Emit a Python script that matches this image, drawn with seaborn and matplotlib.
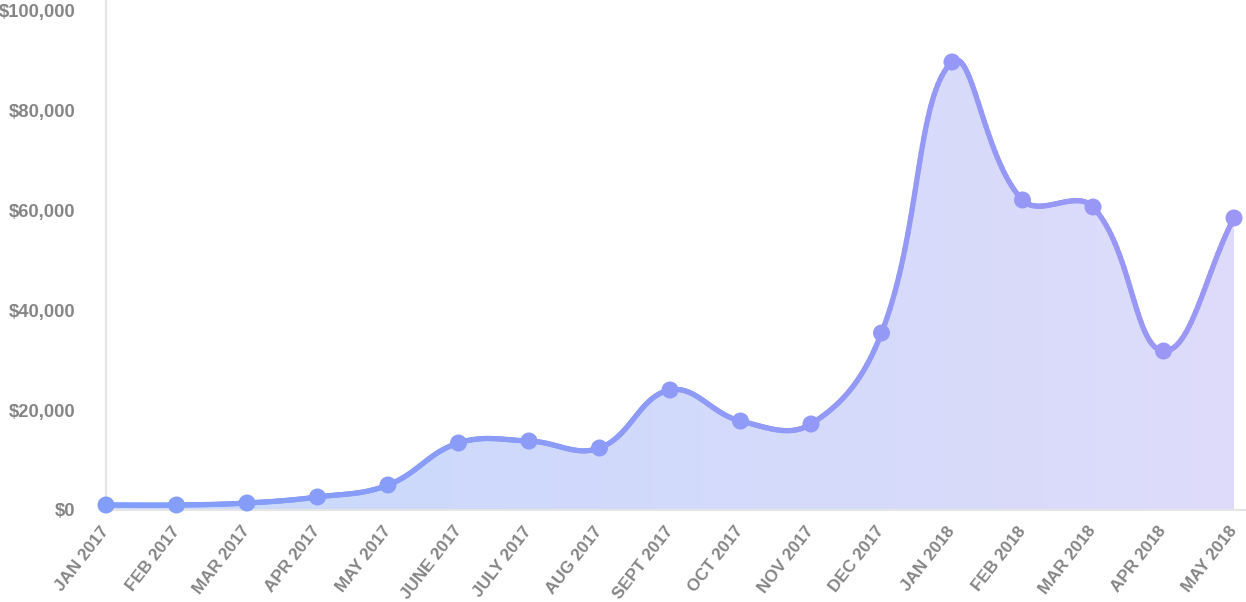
import numpy as np
import pandas as pd
import seaborn as sns
import matplotlib.pyplot as plt
from matplotlib.collections import LineCollection
from matplotlib.colors import LinearSegmentedColormap
from matplotlib.ticker import FuncFormatter

months = ['JAN 2017', 'FEB 2017', 'MAR 2017', 'APR 2017', 'MAY 2017', 'JUNE 2017',
          'JULY 2017', 'AUG 2017', 'SEPT 2017', 'OCT 2017', 'NOV 2017', 'DEC 2017',
          'JAN 2018', 'FEB 2018', 'MAR 2018', 'APR 2018', 'MAY 2018']
revenue = [1000, 1000, 1400, 2600, 5000, 13400, 13800, 12400, 24000, 17800,
           17200, 35400, 89600, 62000, 60600, 31800, 58400]
y_ticks = [0, 20000, 40000, 60000, 80000, 100000]

LINE_START = (0.51, 0.62, 0.98)
LINE_END = (0.61, 0.59, 0.96)
FILL_START = (0.78, 0.85, 0.99)
FILL_END = (0.87, 0.86, 0.98)
TEXT = '#858585'


def spline(xs, ys, sx, sy, tension=0.4, n=40):
    """Chart.js style cubic spline, distances in pixel space"""
    px = np.asarray(xs, float) * sx
    py = np.asarray(ys, float) * sy
    m = len(px)
    cin, cout = [], []
    for i in range(m):
        p0 = i - 1 if i > 0 else i
        p2 = i + 1 if i < m - 1 else i
        d01 = np.hypot(px[i] - px[p0], py[i] - py[p0])
        d12 = np.hypot(px[p2] - px[i], py[p2] - py[i])
        tot = d01 + d12
        s01 = d01 / tot if tot else 0
        s12 = d12 / tot if tot else 0
        fa, fb = tension * s01, tension * s12
        dx, dy = px[p2] - px[p0], py[p2] - py[p0]
        cin.append((px[i] - fa * dx, py[i] - fa * dy))
        cout.append((px[i] + fb * dx, py[i] + fb * dy))
    outx, outy = [], []
    t = np.linspace(0, 1, n)
    for i in range(m - 1):
        a = np.array([px[i], py[i]])
        b = np.array(cout[i])
        c = np.array(cin[i + 1])
        d = np.array([px[i + 1], py[i + 1]])
        pts = ((1 - t)[:, None] ** 3 * a + 3 * ((1 - t) ** 2 * t)[:, None] * b
               + 3 * ((1 - t) * t ** 2)[:, None] * c + (t ** 3)[:, None] * d)
        if i > 0:
            pts = pts[1:]
        outx.extend(pts[:, 0])
        outy.extend(pts[:, 1])
    return np.array(outx) / sx, np.array(outy) / sy


sns.set_style('white')
plt.rcParams['font.family'] = ['Liberation Sans', 'DejaVu Sans']

fig = plt.figure(figsize=(12.46, 6.02), dpi=100)
ax = fig.add_axes([106 / 1246, 92 / 602, 1 - 106 / 1246, 510 / 602])

df = pd.DataFrame({'idx': np.arange(len(months)), 'month': months, 'revenue': revenue})
x_max = (1246 - 106) / 70.5
ax.set_xlim(0, x_max)
ax.set_ylim(0, 102000)

cx, cy = spline(df['idx'], df['revenue'], 70.5, 500 / 100000)

# gradient fill under the curve
fill_cmap = LinearSegmentedColormap.from_list('fill', [FILL_START, FILL_END])
grad = np.linspace(0, 1, 256).reshape(1, -1)
im = ax.imshow(grad, cmap=fill_cmap, aspect='auto', extent=[0, len(months) - 1, 0, 102000],
               origin='lower', zorder=1)
poly = ax.fill_between(cx, 0, cy, color='none', lw=0)
im.set_clip_path(poly.get_paths()[0], transform=ax.transData)

# gradient line
line_cmap = LinearSegmentedColormap.from_list('line', [LINE_START, LINE_END])
pts = np.column_stack([cx, cy]).reshape(-1, 1, 2)
segs = np.concatenate([pts[:-1], pts[1:]], axis=1)
lc = LineCollection(segs, cmap=line_cmap, linewidths=3.8, capstyle='round', zorder=3)
lc.set_array((cx[:-1] + cx[1:]) / 2 / (len(months) - 1))
lc.set_clim(0, 1)
ax.add_collection(lc)

marker_colors = [line_cmap(i / (len(months) - 1)) for i in range(len(months))]
sns.scatterplot(data=df, x='idx', y='revenue', hue='month', palette=marker_colors,
                s=150, edgecolor='none', legend=False, zorder=4, ax=ax, clip_on=False)

ax.set_xticks(df['idx'])
ax.set_xticklabels(months, rotation=52, ha='right', va='center', rotation_mode='anchor')
ax.set_yticks(y_ticks)
ax.yaxis.set_major_formatter(FuncFormatter(lambda v, _: f'${v:,.0f}'))
ax.tick_params(axis='x', length=0, pad=13, labelsize=12.3, labelcolor=TEXT)
ax.tick_params(axis='y', length=0, pad=22, labelsize=13.2, labelcolor=TEXT)
for lab in ax.get_xticklabels() + ax.get_yticklabels():
    lab.set_fontweight('bold')
ax.set_xlabel('')
ax.set_ylabel('')

for side in ['top', 'right']:
    ax.spines[side].set_visible(False)
for side in ['left', 'bottom']:
    ax.spines[side].set_color('#e5e5e5')
    ax.spines[side].set_linewidth(1.5)

fig.savefig('out.png', dpi=100)
